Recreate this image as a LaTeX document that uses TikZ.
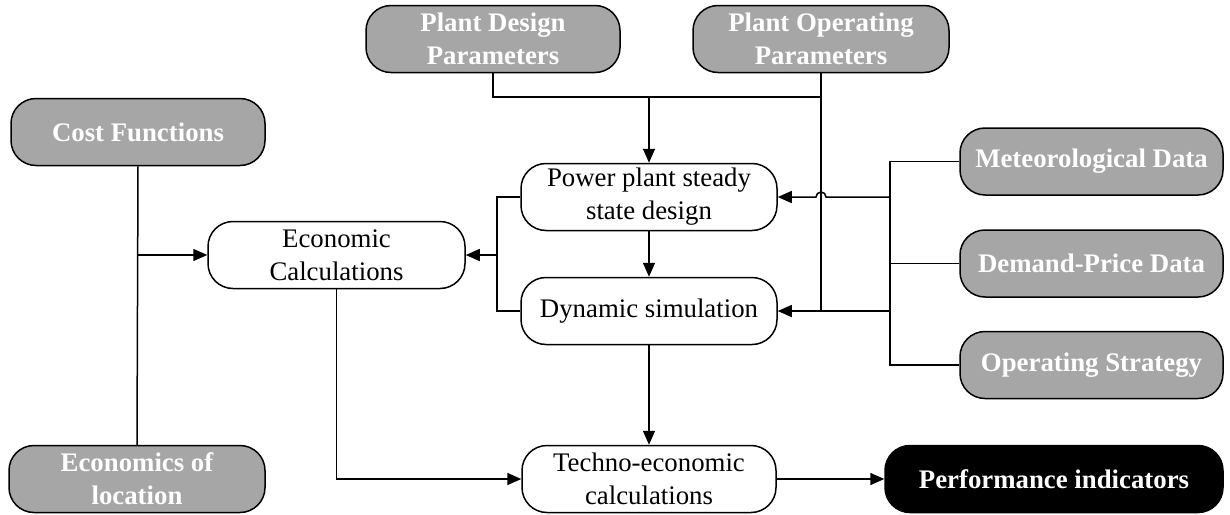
\documentclass[tikz,border=0pt]{standalone}
\usepackage{fontspec}
\setmainfont{Liberation Serif}
\usetikzlibrary{arrows.meta,positioning,calc}
\definecolor{gry}{HTML}{A6A6A6}

\begin{document}
\begin{tikzpicture}[x=0.5pt,y=-0.5pt,line width=0.75pt,
  box/.style={draw,rounded corners=12.5pt,minimum height=33.5pt,align=center,
    inner sep=1pt,font=\fontsize{13.4}{16.5}\selectfont},
  gbox/.style={box,fill=gry,text=white,font=\fontsize{13.4}{16.5}\selectfont\bfseries},
  wbox/.style={box,fill=white},
  kbox/.style={box,fill=black,text=white,font=\fontsize{13.4}{16.5}\selectfont\bfseries},
  arr/.style={-{Triangle[length=7pt,width=6pt]}}]
  \useasboundingbox (0,0) rectangle (1230,514);
  % inputs
  \node[gbox,minimum width=127pt] (design) at (493,39) {Plant Design\\Parameters};
  \node[gbox,minimum width=128pt] (oper) at (821,39) {Plant Operating\\Parameters};
  \node[gbox,minimum width=127pt] (cost) at (138,132) {Cost Functions};
  \node[gbox,minimum width=128pt] (loc) at (137,479) {Economics of\\location};
  \node[gbox,minimum width=131.5pt] (meteo) at (1091.5,161.5) {Meteorological Data};
  \node[gbox,minimum width=131.5pt] (demand) at (1091.5,263.5) {Demand-Price Data};
  \node[gbox,minimum width=131.5pt] (strat) at (1091.5,365) {Operating Strategy};
  % models
  \node[wbox,minimum width=128pt] (steady) at (649,197) {Power plant steady\\state design};
  \node[wbox,minimum width=128pt] (dyn) at (649,311) {Dynamic simulation};
  \node[wbox,minimum width=128.5pt] (econ) at (336.5,255) {Economic\\Calculations};
  \node[wbox,minimum width=127pt] (techno) at (649,479) {Techno-economic\\calculations};
  \node[kbox,minimum width=169pt] (perf) at (1054,479) {Performance indicators};
  % joints
  \coordinate (ptop) at (649,97);
  \coordinate (rb) at (890,0);
  \coordinate (lb) at (497,0);
  % connectors
  \draw (design.south) |- (oper.south |- ptop) -- (oper.south);
  \draw (oper.south) -- (oper.south |- dyn);
  \draw[arr] (ptop) -- (steady);
  \draw (meteo.west) -- (meteo.west -| rb) -- (strat.west -| rb) -- (strat.west);
  \draw (demand.west) -- (demand.west -| rb);
  \draw[arr] (steady.east -| rb) -- ($(steady.east -| oper.south)+(5,0)$)
    arc (0:-180:5) -- (steady.east);
  \draw[arr] (dyn.east -| rb) -- (dyn.east);
  \draw (steady.west) -| (dyn.west -| lb) -- (dyn.west);
  \draw[arr] (econ.east -| lb) -- (econ.east);
  \draw (cost.south) -- (loc.north);
  \draw[arr] (econ.west -| cost.south) -- (econ.west);
  \draw[arr] (steady) -- (dyn);
  \draw[arr] (dyn) -- (techno);
  \draw[arr] (econ.south) |- (techno.west);
  \draw[arr] (techno) -- (perf);
\end{tikzpicture}
\end{document}
